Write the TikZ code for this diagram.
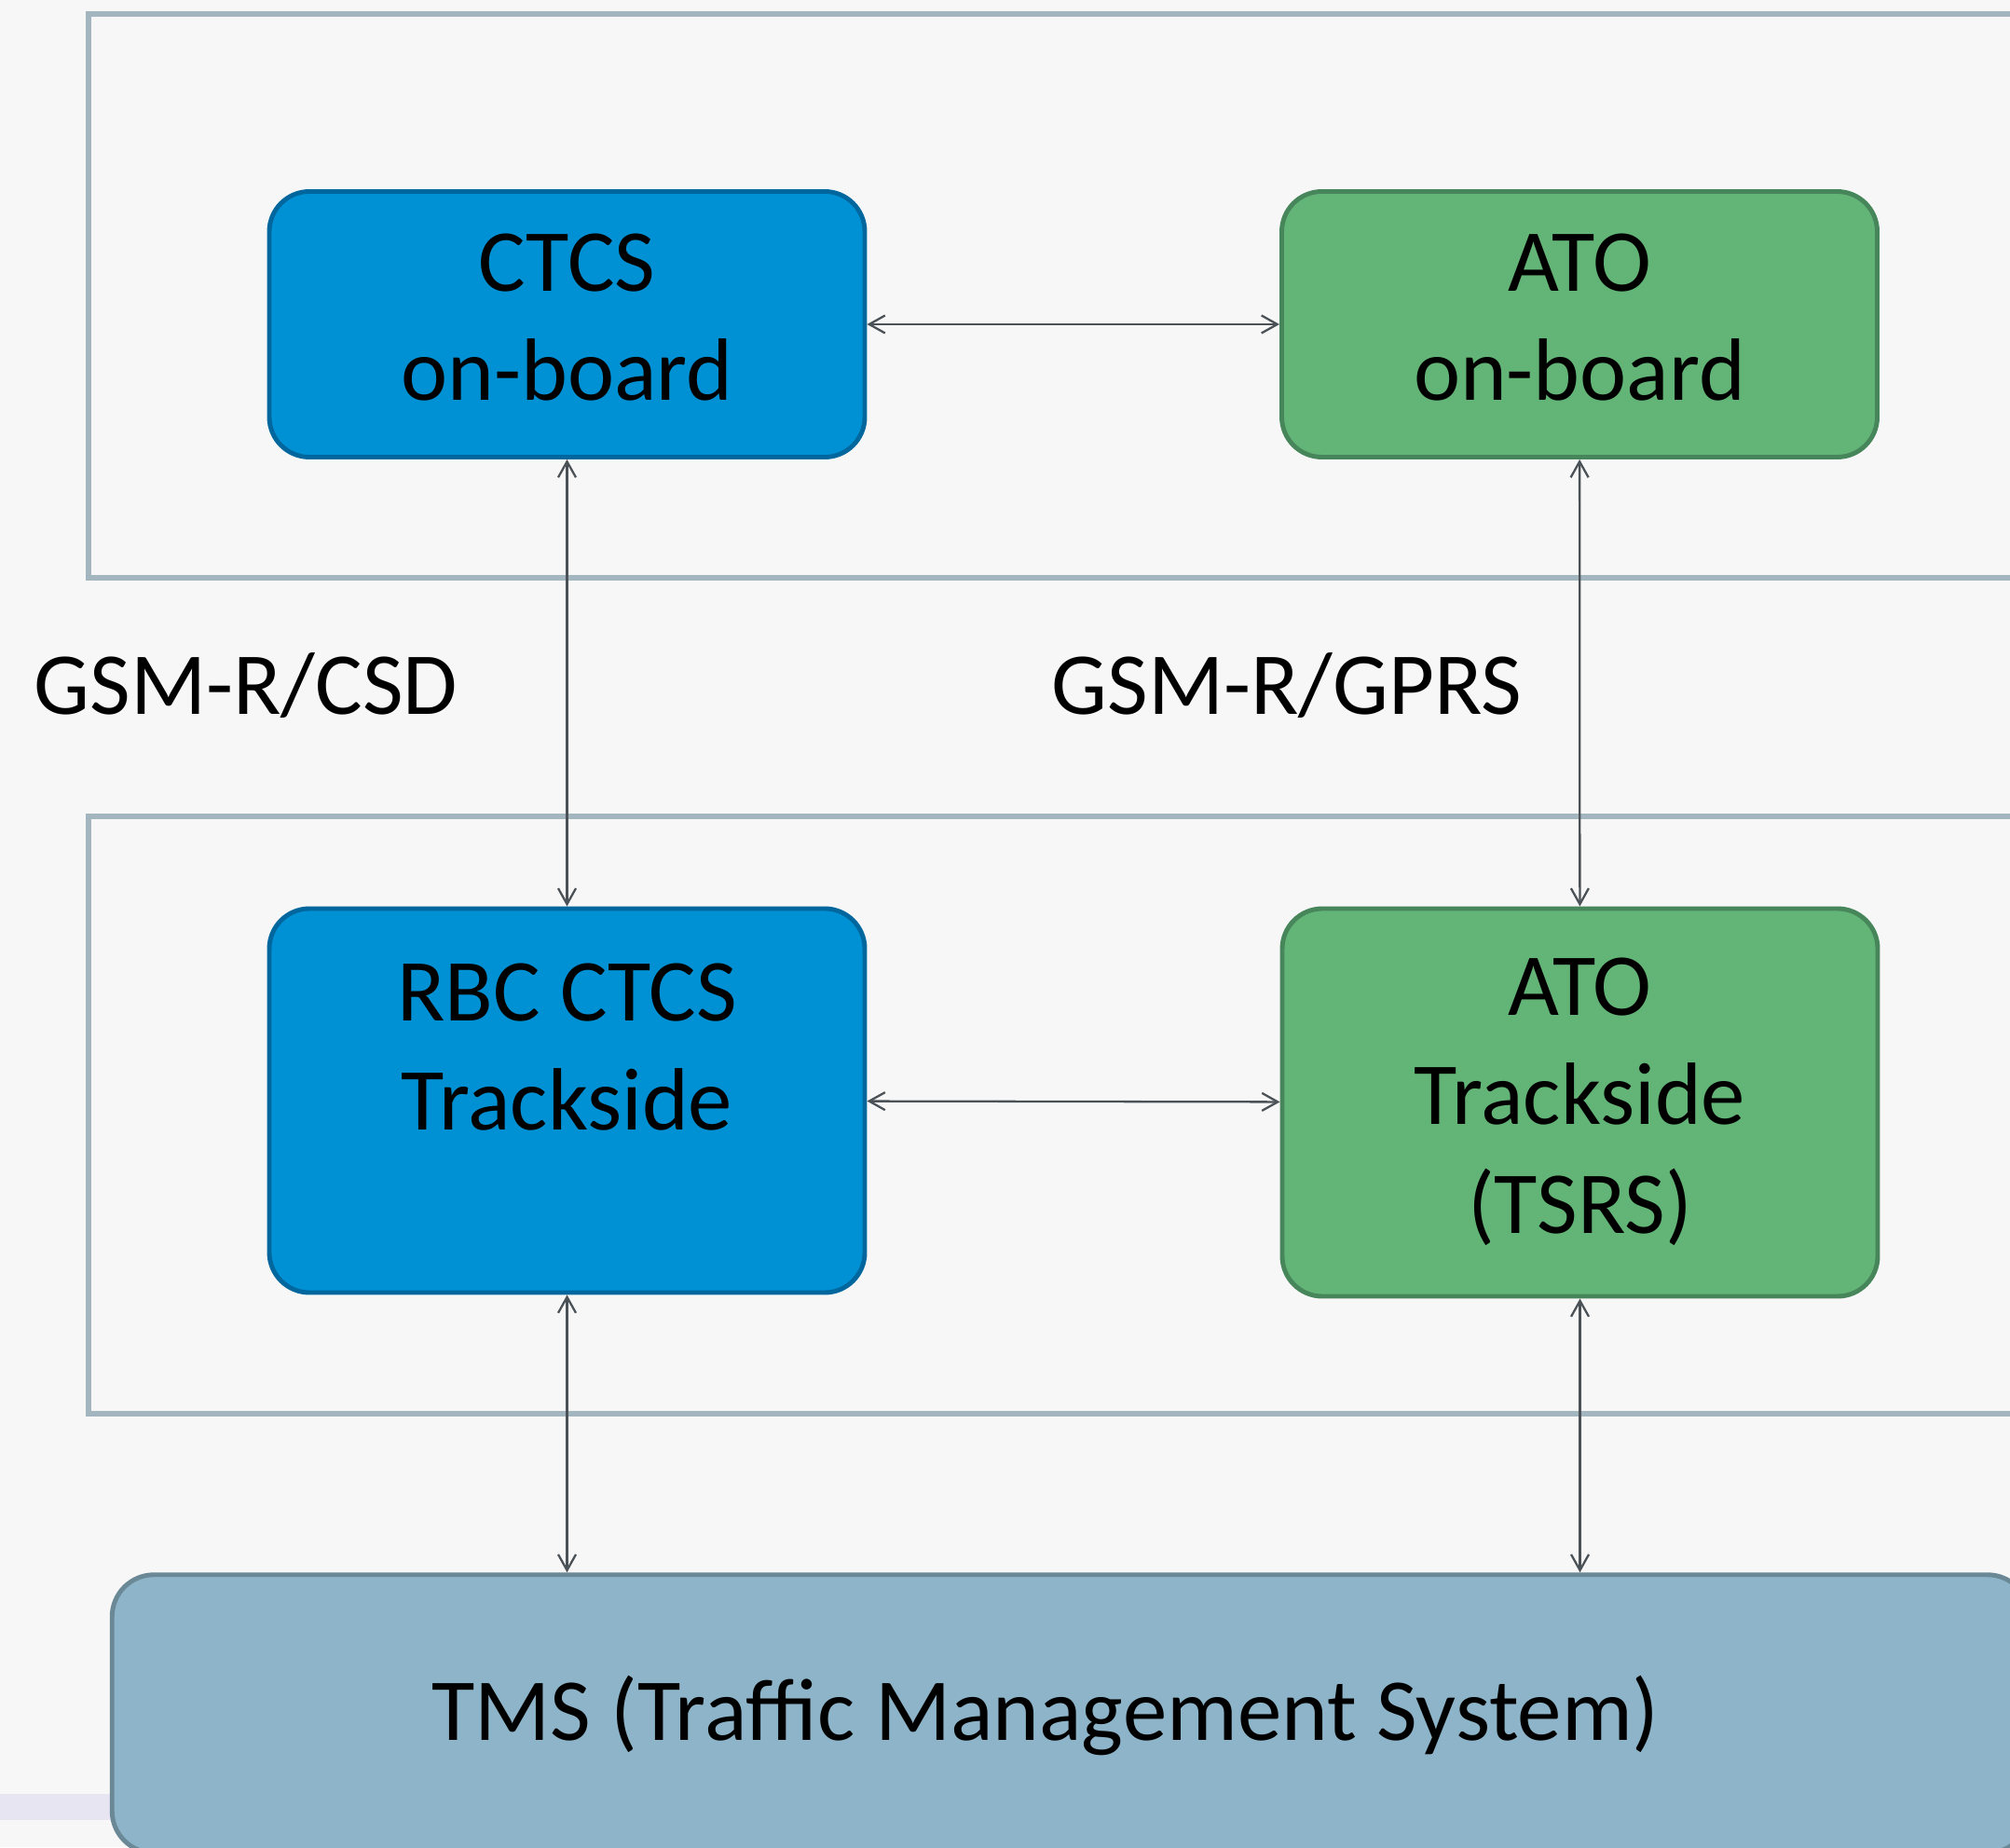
\documentclass[tikz,border=0pt]{standalone}
\usepackage{fontspec}
\setmainfont{Carlito}
\usetikzlibrary{arrows.meta, positioning}

\definecolor{pagebg}{HTML}{F7F7F7}
\definecolor{framegray}{HTML}{A3B5BF}
\definecolor{ctcsblue}{HTML}{0091D5}
\definecolor{ctcsedge}{HTML}{00679E}
\definecolor{atogreen}{HTML}{63B577}
\definecolor{atoedge}{HTML}{46865A}
\definecolor{tmsblue}{HTML}{8DB4C8}
\definecolor{tmsedge}{HTML}{6A8896}
\definecolor{linkgray}{HTML}{4B5257}
\definecolor{smudge}{HTML}{E6E5F1}

\tikzset{
  unit/.style={rectangle, rounded corners=0.43cm, line width=1.4pt,
    minimum width=6.39cm, align=center, inner sep=0pt,
    font=\fontsize{27}{33.3}\selectfont},
  ctcsunit/.style={unit, fill=ctcsblue, draw=ctcsedge},
  atounit/.style={unit, fill=atogreen, draw=atoedge},
  tmsunit/.style={rectangle, rounded corners=0.45cm, line width=1.4pt,
    fill=tmsblue, draw=tmsedge, inner sep=0pt},
  zone/.style={draw=framegray, line width=1.5pt},
  link/.style={draw=linkgray, line width=0.65pt,
    {Straight Barb[length=1.7mm,width=1.9mm]}-{Straight Barb[length=1.7mm,width=1.9mm]}},
  caption/.style={font=\fontsize{27}{33.3}\selectfont, anchor=base, inner sep=0pt}
}

\begin{document}
\begin{tikzpicture}
  \useasboundingbox (0,0) rectangle (21.57,19.82);
  \clip (0,0) rectangle (21.57,19.82);
  \fill[pagebg] (0,0) rectangle (21.57,19.82);

  % on-board and trackside zones
  \draw[zone] (22,19.67) -- (0.95,19.67) -- (0.95,13.62) -- (22,13.62);
  \draw[zone] (22,11.06) -- (0.95,11.06) -- (0.95,4.65) -- (22,4.65);

  \node[ctcsunit, minimum height=2.85cm] (ctcs) at (6.085,16.34) {\strut CTCS\\\strut on-board};
  \node[atounit, minimum height=2.85cm] (atoob) at (16.95,16.34) {\strut ATO\\\strut on-board};
  \node[ctcsunit, minimum height=4.12cm] (rbc) at (6.085,8.01) {\strut RBC CTCS\\\strut Trackside\\[-0.16cm]\strut};
  \node[atounit, minimum height=4.16cm] (atots) at (16.955,7.99) {\strut ATO\\\strut Trackside\\\strut (TSRS)};

  \node[caption] (csd) at (2.64,12.16) {GSM-R/CSD};
  \node[caption] (gprs) at (13.81,12.16) {GSM-R/GPRS};

  \fill[smudge] (0,0.29) rectangle (1.3,0.57);
  \node[tmsunit, minimum width=20.575cm, minimum height=2.985cm] (tms) at (11.49,1.43) {};
  \node[caption] (tmstext) at (11.22,1.15) {TMS (Traffic Management System)};

  % links
  \draw[link] (ctcs) -- (atoob);
  \draw[link] (ctcs) -- (rbc);
  \draw[link] (atoob) -- (atots);
  \draw[link] (rbc) -- (atots);
  \draw[link] (rbc.south) -- (rbc.south |- tms.north);
  \draw[link] (atots.south) -- (atots.south |- tms.north);
\end{tikzpicture}
\end{document}
